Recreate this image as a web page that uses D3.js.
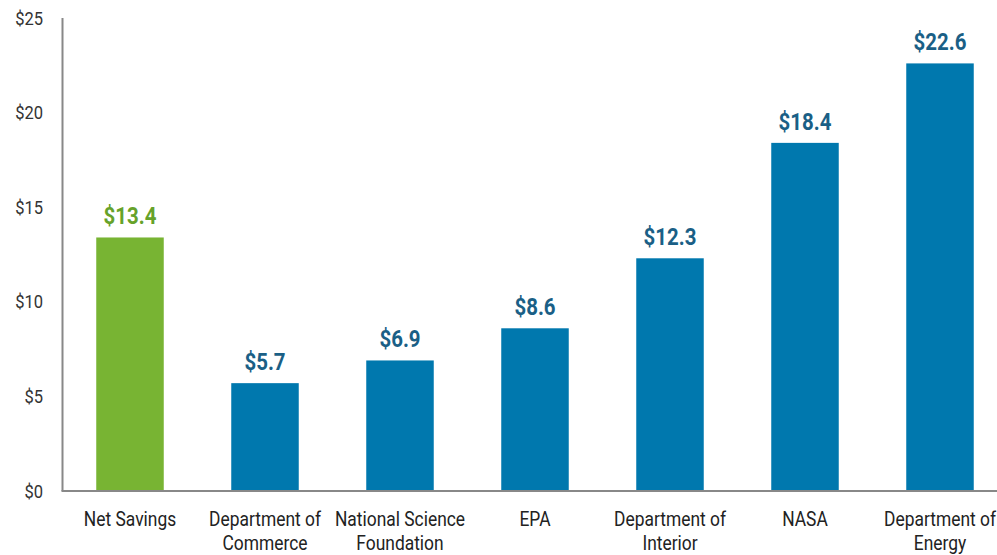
<!DOCTYPE html>
<html>
<head>
<meta charset="utf-8">
<script src="https://cdn.jsdelivr.net/npm/d3@7"></script>
<style>
  html, body { margin: 0; padding: 0; background: #fff; }
  svg { display: block; }
  text { font-family: "Roboto", "Liberation Sans", sans-serif; }
</style>
</head>
<body>
<svg id="chart" width="997" height="555"></svg>
<script>
const categories = [
  ["Net Savings"],
  ["Department of", "Commerce"],
  ["National Science", "Foundation"],
  ["EPA"],
  ["Department of", "Interior"],
  ["NASA"],
  ["Department of", "Energy"]
];
const values = [13.4, 5.7, 6.9, 8.6, 12.3, 18.4, 22.6];
const barColors = ["#78b433", "#0078ae", "#0078ae", "#0078ae", "#0078ae", "#0078ae", "#0078ae"];
const labelColors = ["#66a22a", "#1a5f86", "#1a5f86", "#1a5f86", "#1a5f86", "#1a5f86", "#1a5f86"];
const yTicks = [0, 5, 10, 15, 20, 25];

const svg = d3.select("#chart");
const W = 997;
const mLeft = 62.5, mBottom = 491, mTop = 18;
const SX = 0.87; // condensed look

const ids = categories.map((c, i) => i);
const x = d3.scaleBand().domain(ids).range([mLeft, mLeft + 7 * 135]).paddingInner(0.5).paddingOuter(0.25);
const y = d3.scaleLinear().domain([0, 25]).range([mBottom, mTop]);

// y axis line
svg.append("line").attr("x1", mLeft).attr("x2", mLeft).attr("y1", mTop).attr("y2", mBottom)
  .attr("stroke", "#888").attr("stroke-width", 2);

// y tick labels
svg.append("g").selectAll("text").data(yTicks).join("text")
  .attr("transform", d => `translate(43,${y(d)}) scale(${SX},1)`)
  .attr("dy", "0.35em")
  .attr("text-anchor", "end").attr("font-size", 19).attr("fill", "#333")
  .text(d => "$" + d);

// bars
svg.append("g").selectAll("rect").data(values).join("rect")
  .attr("x", (d, i) => x(i)).attr("width", x.bandwidth())
  .attr("y", d => y(d)).attr("height", d => mBottom - y(d))
  .attr("fill", (d, i) => barColors[i]);

// baseline
svg.append("line").attr("x1", mLeft - 1).attr("x2", W).attr("y1", mBottom).attr("y2", mBottom)
  .attr("stroke", "#888").attr("stroke-width", 2);

// value labels
svg.append("g").selectAll("text").data(values).join("text")
  .attr("transform", (d, i) => `translate(${x(i) + x.bandwidth() / 2},${y(d) - 13}) scale(0.87,1)`)
  .attr("text-anchor", "middle").attr("font-size", 23.5).attr("font-weight", "bold")
  .attr("fill", (d, i) => labelColors[i])
  .text(d => "$" + d.toFixed(1));

// category labels
const cat = svg.append("g").selectAll("text").data(categories).join("text")
  .attr("transform", (d, i) => `translate(${x(i) + x.bandwidth() / 2},526) scale(${SX},1)`)
  .attr("text-anchor", "middle").attr("font-size", 20).attr("fill", "#222");
cat.selectAll("tspan").data(d => d).join("tspan")
  .attr("x", 0)
  .attr("dy", (d, j) => j === 0 ? 0 : 24)
  .text(d => d);
</script>
</body>
</html>
